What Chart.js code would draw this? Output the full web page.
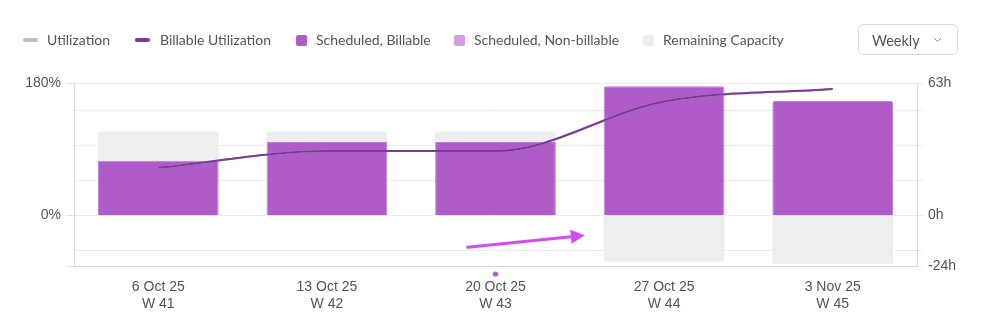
<!DOCTYPE html>
<html>
<head>
<meta charset="utf-8">
<script src="https://cdn.jsdelivr.net/npm/chart.js@4.4.1/dist/chart.umd.min.js"></script>
<style>
html,body{margin:0;padding:0;background:#fff;}
#wrap{position:relative;width:983px;height:331px;overflow:hidden;font-family:Lato,"Noto Sans",sans-serif;}
#chart{position:absolute;left:0;top:0;}
.lg{position:absolute;top:31px;font-size:14px;color:#555;line-height:18px;white-space:nowrap;}
.ln{position:absolute;top:38px;width:15px;height:4px;border-radius:2px;}
.bx{position:absolute;top:34.5px;width:11px;height:11px;border-radius:2px;}
#sel{position:absolute;left:858px;top:24px;width:98px;height:29px;border:1px solid #d9d9de;border-radius:5px;box-sizing:content-box;}
#sel span{position:absolute;left:13px;top:0;line-height:31px;font-size:14.5px;color:#555;}
#sel svg{position:absolute;left:74px;top:12px;}
</style>
</head>
<body>
<div id="wrap">
  <canvas id="chart" width="983" height="331"></canvas>
  <div class="ln" style="left:23px;background:#bebec4"></div><div class="lg" style="left:47px">Utilization</div>
  <div class="ln" style="left:135px;background:#7a3a9c"></div><div class="lg" style="left:160px">Billable Utilization</div>
  <div class="bx" style="left:296px;background:#b05cc8"></div><div class="lg" style="left:316px">Scheduled, Billable</div>
  <div class="bx" style="left:454px;background:#d59de2"></div><div class="lg" style="left:474px">Scheduled, Non-billable</div>
  <div class="bx" style="left:643px;background:#eeeef1"></div><div class="lg" style="left:663px">Remaining Capacity</div>
  <div id="sel"><span>Weekly</span><svg width="9" height="6" viewBox="0 0 9 6"><path d="M1 1 L4.5 4.5 L8 1" fill="none" stroke="#888" stroke-width="1"/></svg></div>
</div>
<script>
// ---- data ----
const weeks = [["6 Oct 25","W 41"],["13 Oct 25","W 42"],["20 Oct 25","W 43"],["27 Oct 25","W 44"],["3 Nov 25","W 45"]];
const scheduledBillable = [26, 35, 35, 61.5, 54.5];      // hours
const scheduledNonBillable = [0, 0, 0, 0, 0];           // hours
const remainingCapacity = [14, 5, 5, -22, -23];         // hours
const utilization = [65, 87.5, 87.5, 155, 172];         // %
const billableUtilization = [65, 87.5, 87.5, 155, 172]; // %
const hourAxisRange = [-24, 63];
const hourGridTicks = [-24, -16.65, 0, 16.65, 33.3, 49.95, 63];
const hourLabelTicks = [-24, 0, 63];
const pctLabelTicks = [0, 180];
const pctMax = 180;
// annotation overlay (x in category index units, y in hours)
const arrowFrom = [1.835, -15.1];
const arrowTo = [2.53, -9.4];
const markerIndex = 2;

const pctMin = hourAxisRange[0] / hourAxisRange[1] * pctMax;

Chart.defaults.font.family = "'Liberation Sans', Arial, sans-serif";
Chart.defaults.font.size = 14;
Chart.defaults.color = '#555';

const annot = {
  id: 'annot',
  afterDraw(chart) {
    const {ctx, scales, chartArea} = chart;
    const x = scales.x, y = scales.yH;
    const x1 = x.getPixelForValue(arrowFrom[0]), y1 = y.getPixelForValue(arrowFrom[1]);
    const x2 = x.getPixelForValue(arrowTo[0]), y2 = y.getPixelForValue(arrowTo[1]);
    const ang = Math.atan2(y2 - y1, x2 - x1);
    const head = 14, hw = 7;
    const bx = x2 - head * Math.cos(ang), by = y2 - head * Math.sin(ang);
    ctx.save();
    ctx.strokeStyle = '#d14cf2';
    ctx.fillStyle = '#d14cf2';
    ctx.lineWidth = 3;
    ctx.lineCap = 'round';
    ctx.beginPath(); ctx.moveTo(x1, y1); ctx.lineTo(bx, by); ctx.stroke();
    ctx.beginPath();
    ctx.moveTo(x2, y2);
    ctx.lineTo(bx + hw * Math.sin(ang), by - hw * Math.cos(ang));
    ctx.lineTo(bx - hw * Math.sin(ang), by + hw * Math.cos(ang));
    ctx.closePath(); ctx.fill();
    ctx.fillStyle = '#b35bd0';
    ctx.beginPath(); ctx.arc(x.getPixelForValue(markerIndex), chartArea.bottom + 8, 2.6, 0, Math.PI * 2); ctx.fill();
    ctx.restore();
  }
};

new Chart(document.getElementById('chart'), {
  data: {
    labels: weeks,
    datasets: [
      { type: 'line', label: 'Billable Utilization', data: billableUtilization, yAxisID: 'yPct', borderColor: '#7a3a9c', borderWidth: 2, pointRadius: 0, cubicInterpolationMode: 'monotone', order: 0 },
      { type: 'line', label: 'Utilization', data: utilization, yAxisID: 'yPct', borderColor: '#bebec4', borderWidth: 2, pointRadius: 0, cubicInterpolationMode: 'monotone', order: 1 },
      { type: 'bar', label: 'Scheduled, Billable', data: scheduledBillable, yAxisID: 'yH', stack: 'h', backgroundColor: '#b05cc8', borderColor: '#bf7dd5', borderWidth: 1, borderSkipped: 'bottom', borderRadius: 2, order: 2 },
      { type: 'bar', label: 'Scheduled, Non-billable', data: scheduledNonBillable, yAxisID: 'yH', stack: 'h', backgroundColor: '#d59de2', borderWidth: 0, order: 2 },
      { type: 'bar', label: 'Remaining Capacity', data: remainingCapacity, yAxisID: 'yH', stack: 'h', backgroundColor: '#eeeef1', borderWidth: 0, borderRadius: 2, order: 2 }
    ]
  },
  options: {
    responsive: false,
    animation: false,
    devicePixelRatio: 1,
    layout: { padding: { top: 83, left: 0, right: 0, bottom: 0 } },
    plugins: { legend: { display: false }, tooltip: { enabled: false } },
    datasets: { bar: { categoryPercentage: 1, barPercentage: 0.716 } },
    scales: {
      x: {
        stacked: true,
        grid: { display: false, drawTicks: false },
        border: { display: true, color: '#d9d9d9' },
        ticks: { padding: 13, autoSkip: false, maxRotation: 0, color: '#555', font: { size: 14 } },
        afterFit(s) { s.height = 65; }
      },
      yPct: {
        type: 'linear', position: 'left', min: pctMin, max: pctMax,
        grid: { drawOnChartArea: false, drawTicks: true, tickLength: 8, color: '#e6e6e6' },
        border: { color: '#d9d9d9' },
        afterBuildTicks(s) { s.ticks = [pctMin].concat(pctLabelTicks).map(v => ({ value: v })); },
        ticks: { autoSkip: false, padding: 5, color: '#555', callback: v => pctLabelTicks.includes(v) ? v + '%' : '' },
        afterFit(s) { s.width = 74; }
      },
      yH: {
        type: 'linear', position: 'right', stacked: true, min: hourAxisRange[0], max: hourAxisRange[1],
        grid: { color: '#ececec', drawTicks: true, tickLength: 6 },
        border: { color: '#d9d9d9' },
        afterBuildTicks(s) { s.ticks = hourGridTicks.map(v => ({ value: v })); },
        ticks: { autoSkip: false, padding: 5, color: '#555', callback: v => hourLabelTicks.includes(v) ? v + 'h' : '' },
        afterFit(s) { s.width = 66; }
      }
    }
  },
  plugins: [annot]
});
</script>
</body>
</html>
